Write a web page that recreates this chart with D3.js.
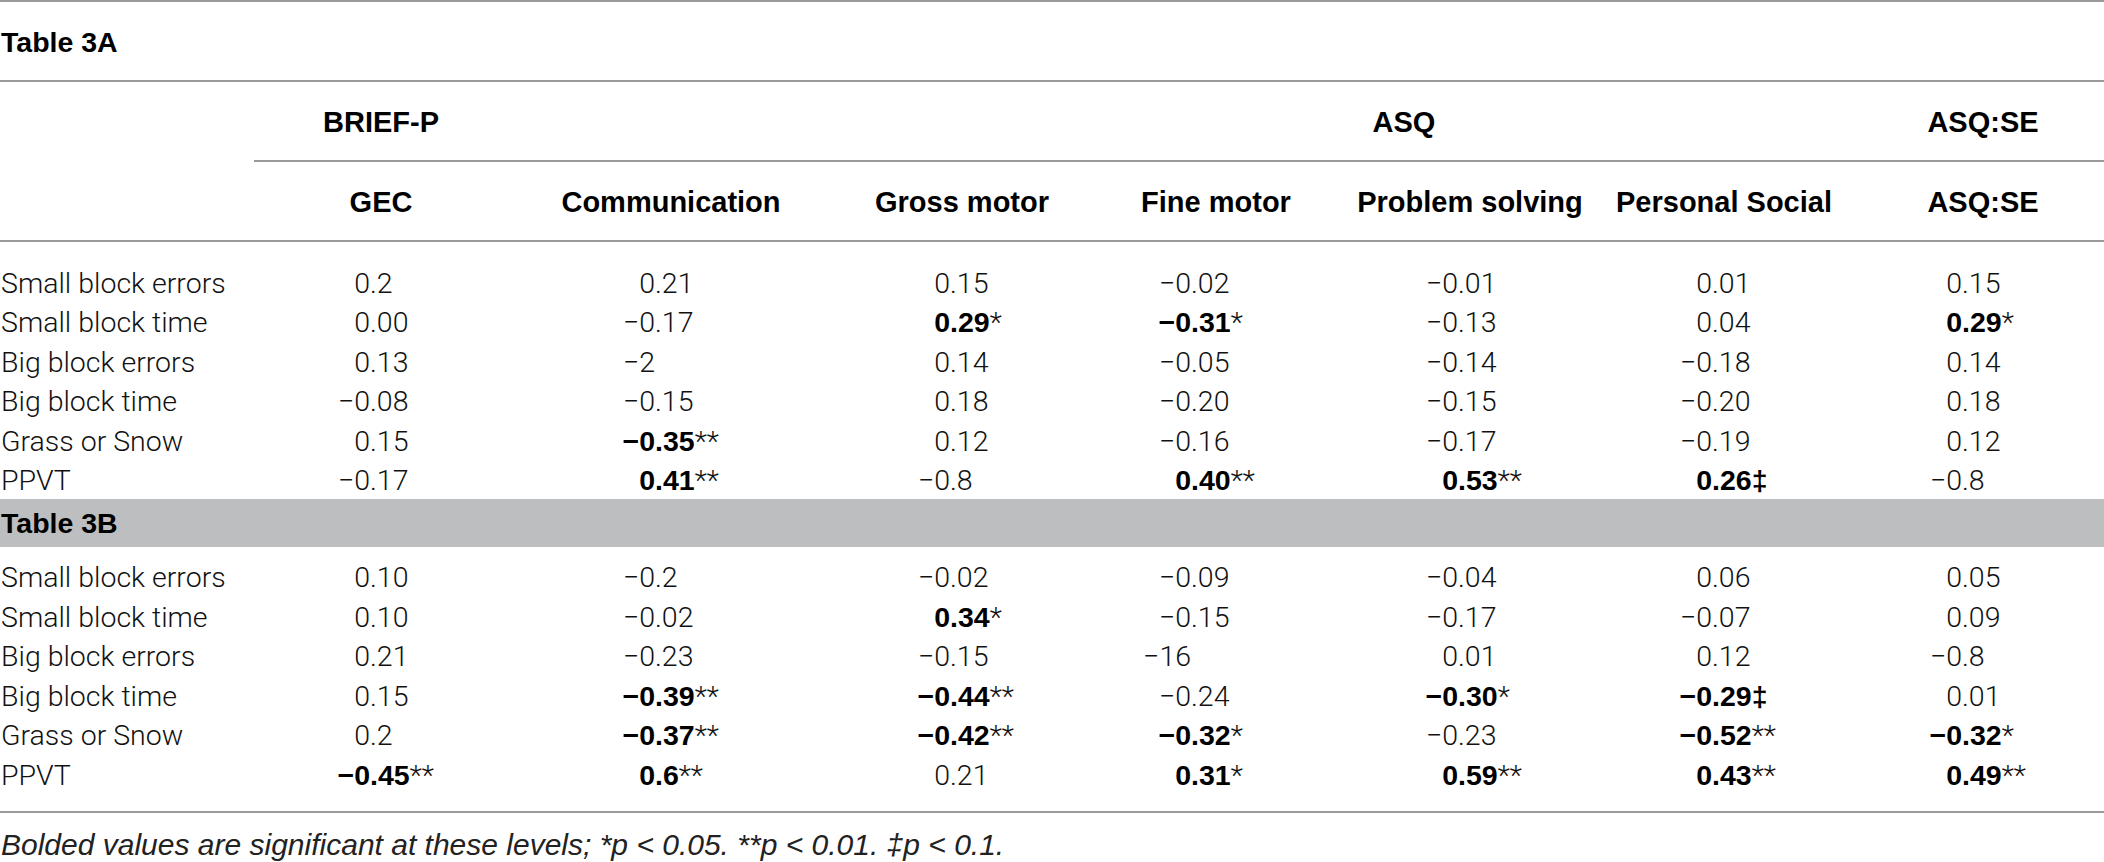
<!DOCTYPE html>
<html>
<head>
<meta charset="utf-8">
<script src="https://cdn.jsdelivr.net/npm/d3@7"></script>
<style>
  body { margin: 0; background: #fff; }
  svg { display: block; }
  .light { font-family: Roboto, "Liberation Sans", sans-serif; font-weight: 300; fill: #111; }
  .bold { font-family: "Liberation Sans", Arial, sans-serif; font-weight: 700; fill: #000; }
  .note { font-family: "Liberation Sans", Arial, sans-serif; font-style: italic; fill: #222; }
</style>
</head>
<body>
<div id="chart"></div>
<script>
// column headers
var groups = ["BRIEF-P", "ASQ", "ASQ:SE"];
var columns = ["GEC", "Communication", "Gross motor", "Fine motor", "Problem solving", "Personal Social", "ASQ:SE"];
var rowLabels = ["Small block errors", "Small block time", "Big block errors", "Big block time", "Grass or Snow", "PPVT"];

// Table 3A correlations (as printed) and significance marks
var valuesA = [
    ["0.2", "0.21", "0.15", "−0.02", "−0.01", "0.01", "0.15"],
    ["0.00", "−0.17", "0.29", "−0.31", "−0.13", "0.04", "0.29"],
    ["0.13", "−2", "0.14", "−0.05", "−0.14", "−0.18", "0.14"],
    ["−0.08", "−0.15", "0.18", "−0.20", "−0.15", "−0.20", "0.18"],
    ["0.15", "−0.35", "0.12", "−0.16", "−0.17", "−0.19", "0.12"],
    ["−0.17", "0.41", "−0.8", "0.40", "0.53", "0.26", "−0.8"]
];
var sigA = [
    ["", "", "", "", "", "", ""],
    ["", "", "*", "*", "", "", "*"],
    ["", "", "", "", "", "", ""],
    ["", "", "", "", "", "", ""],
    ["", "**", "", "", "", "", ""],
    ["", "**", "", "**", "**", "‡", ""]
];

// Table 3B
var valuesB = [
    ["0.10", "−0.2", "−0.02", "−0.09", "−0.04", "0.06", "0.05"],
    ["0.10", "−0.02", "0.34", "−0.15", "−0.17", "−0.07", "0.09"],
    ["0.21", "−0.23", "−0.15", "−16", "0.01", "0.12", "−0.8"],
    ["0.15", "−0.39", "−0.44", "−0.24", "−0.30", "−0.29", "0.01"],
    ["0.2", "−0.37", "−0.42", "−0.32", "−0.23", "−0.52", "−0.32"],
    ["−0.45", "0.6", "0.21", "0.31", "0.59", "0.43", "0.49"]
];
var sigB = [
    ["", "", "", "", "", "", ""],
    ["", "", "*", "", "", "", ""],
    ["", "", "", "", "", "", ""],
    ["", "**", "**", "", "*", "‡", ""],
    ["", "**", "**", "*", "", "**", "*"],
    ["**", "**", "", "*", "**", "**", "**"]
];

var footnote = "Bolded values are significant at these levels; *p < 0.05. **p < 0.01. ‡p < 0.1.";

var width = 2104, height = 862;
var fs = 28.5;

var svg = d3.select("#chart").append("svg")
    .attr("width", width)
    .attr("height", height);

// decimal point position for every column
var xDec = d3.scaleOrdinal()
    .domain(columns)
    .range([370, 655, 950, 1191, 1458, 1712, 1962]);
// header centres
var xHead = d3.scaleOrdinal()
    .domain(columns)
    .range([381, 671, 962, 1216, 1470, 1724, 1983]);
var xGroup = d3.scaleOrdinal()
    .domain(groups)
    .range([381, 1404, 1983]);

// baselines of the rows
var yA = d3.scaleLinear().domain([0, rowLabels.length - 1]).range([293, 490]);
var yB = d3.scaleLinear().domain([0, rowLabels.length - 1]).range([587, 785]);

// rules
var rules = [
    {y: 1, x0: 0}, {y: 81, x0: 0}, {y: 161, x0: 254}, {y: 241, x0: 0}, {y: 812, x0: 0}
];
svg.selectAll(".rule")
    .data(rules)
    .enter().append("line")
    .attr("class", "rule")
    .attr("x1", function(d) { return d.x0; })
    .attr("x2", width)
    .attr("y1", function(d) { return d.y; })
    .attr("y2", function(d) { return d.y; })
    .attr("stroke", "#9a9a9a")
    .attr("stroke-width", 2);

// grey band for Table 3B
svg.append("rect")
    .attr("x", 0).attr("y", 499)
    .attr("width", width).attr("height", 48)
    .attr("fill", "#bdbec0");

svg.append("text").attr("class", "bold")
    .attr("x", 1).attr("y", 52)
    .style("font-size", fs + "px")
    .text("Table 3A");
svg.append("text").attr("class", "bold")
    .attr("x", 1).attr("y", 533)
    .style("font-size", fs + "px")
    .text("Table 3B");

// group headers
svg.selectAll(".group")
    .data(groups)
    .enter().append("text")
    .attr("class", "group bold")
    .attr("x", function(d) { return xGroup(d); })
    .attr("y", 132)
    .attr("text-anchor", "middle")
    .style("font-size", "29px")
    .text(function(d) { return d; });

// column headers
svg.selectAll(".colhead")
    .data(columns)
    .enter().append("text")
    .attr("class", "colhead bold")
    .attr("x", function(d) { return xHead(d); })
    .attr("y", 212)
    .attr("text-anchor", "middle")
    .style("font-size", "29px")
    .text(function(d) { return d; });

function drawBlock(values, sig, y, cls) {
    var g = svg.append("g").attr("class", cls);

    g.selectAll(".label")
        .data(rowLabels)
        .enter().append("text")
        .attr("class", "label light")
        .attr("x", 1)
        .attr("y", function(d, i) { return y(i); })
        .style("font-size", fs + "px")
        .text(function(d) { return d; });

    var cells = [];
    values.forEach(function(row, i) {
        row.forEach(function(v, j) {
            var parts = v.split(".");
            cells.push({
                row: i, col: columns[j],
                whole: parts[0],
                frac: parts.length > 1 ? "." + parts[1] : "",
                mark: sig[i][j]
            });
        });
    });

    // integer part, right aligned on the decimal point
    g.selectAll(".whole")
        .data(cells)
        .enter().append("text")
        .attr("class", function(d) { return "whole " + (d.mark ? "bold" : "light"); })
        .attr("x", function(d) { return xDec(d.col); })
        .attr("y", function(d) { return y(d.row); })
        .attr("text-anchor", "end")
        .style("font-size", fs + "px")
        .text(function(d) { return d.whole; });

    // decimals and significance mark
    var frac = g.selectAll(".frac")
        .data(cells)
        .enter().append("text")
        .attr("class", function(d) { return "frac " + (d.mark ? "bold" : "light"); })
        .attr("x", function(d) { return xDec(d.col); })
        .attr("y", function(d) { return y(d.row); })
        .style("font-size", fs + "px")
        .text(function(d) { return d.frac; });

    frac.filter(function(d) { return d.mark; })
        .append("tspan")
        .attr("class", function(d) { return d.mark === "‡" ? "bold" : "light"; })
        .text(function(d) { return d.mark; });
}

drawBlock(valuesA, sigA, yA, "tableA");
drawBlock(valuesB, sigB, yB, "tableB");

svg.append("text")
    .attr("class", "note")
    .attr("x", 1).attr("y", 855)
    .style("font-size", "30px")
    .text(footnote);
</script>
</body>
</html>
